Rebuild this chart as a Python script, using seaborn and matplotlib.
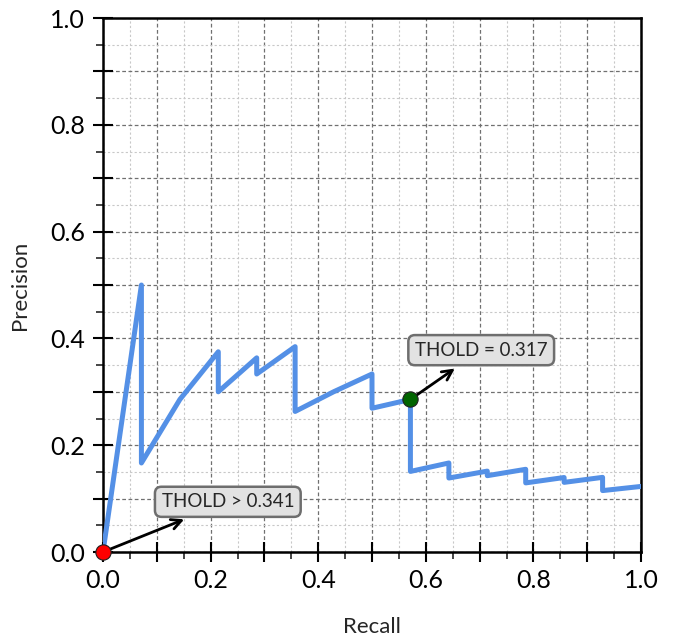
import matplotlib
matplotlib.use("Agg")
import matplotlib.pyplot as plt
from matplotlib.ticker import MultipleLocator
import seaborn as sns
import pandas as pd

# Precision-recall curve values
recall = [0.0, 0.0714, 0.0714, 0.1429, 0.2143, 0.2143, 0.2857, 0.2857,
          0.3571, 0.3571, 0.4286, 0.5, 0.5, 0.5714, 0.5714, 0.6429, 0.6429,
          0.7143, 0.7143, 0.7857, 0.7857, 0.8571, 0.8571, 0.9286, 0.9286, 1.0]
precision = [0.0, 0.5, 0.1667, 0.2857, 0.375, 0.3, 0.3636, 0.3333,
             0.3846, 0.2632, 0.3, 0.3333, 0.2692, 0.2857, 0.1509, 0.1667, 0.1385,
             0.1515, 0.1429, 0.1549, 0.1294, 0.1395, 0.1304, 0.1398, 0.1150, 0.1228]

# Highlighted thresholds
marker_recall = [0.0, 0.5714]
marker_precision = [0.0, 0.2857]
marker_colors = ["#ff0000", "#006400"]
marker_labels = ["THOLD > 0.341", "THOLD = 0.317"]
label_recall = [0.232, 0.703]
label_precision = [0.094, 0.378]

tick_values = [0.0, 0.1, 0.2, 0.3, 0.4, 0.5, 0.6, 0.7, 0.8, 0.9, 1.0]
tick_labels = ["0.0", "", "0.2", "", "0.4", "", "0.6", "", "0.8", "", "1.0"]

sns.set_style("white")
plt.rcParams["font.family"] = ["Lato", "DejaVu Sans"]

fig = plt.figure(figsize=(6.74, 6.38), dpi=100)
ax = fig.add_axes([103 / 674, 1 - 552 / 638, 538 / 674, 534 / 638])

df = pd.DataFrame({"Recall": recall, "Precision": precision})
sns.lineplot(data=df, x="Recall", y="Precision", sort=False, estimator=None,
             color="#5490E6", linewidth=3.6, ax=ax, zorder=3)

ax.set_xlim(0, 1)
ax.set_ylim(0, 1)

ax.set_xticks(tick_values)
ax.set_xticklabels(tick_labels)
ax.set_yticks(tick_values)
ax.set_yticklabels(tick_labels)
ax.xaxis.set_minor_locator(MultipleLocator(0.05))
ax.yaxis.set_minor_locator(MultipleLocator(0.05))

ax.tick_params(which="major", direction="inout", length=14, width=1.5,
               labelsize=18, colors="black", bottom=True, left=True)
ax.tick_params(axis="y", which="major", pad=6)
ax.tick_params(axis="x", which="major", pad=5)
ax.tick_params(which="minor", direction="out", length=5, width=1.2,
               bottom=True, left=True)

ax.grid(which="major", linestyle=(0, (3, 2)), color="#707070", linewidth=0.9)
ax.grid(which="minor", linestyle=(0, (2, 2)), color="#c8c8c8", linewidth=0.8)
ax.set_axisbelow(True)

for sp in ax.spines.values():
    sp.set_visible(True)
    sp.set_color("black")
    sp.set_linewidth(1.8)

ax.set_xlabel("Recall", fontsize=16, labelpad=18)
ax.set_ylabel("Precision", fontsize=16, labelpad=14)

for mx, my, mc, ml, lx, ly in zip(marker_recall, marker_precision, marker_colors,
                                   marker_labels, label_recall, label_precision):
    ax.annotate(ml, xy=(mx, my), xytext=(lx, ly), fontsize=13.5, ha="center", va="center",
                bbox=dict(boxstyle="round,pad=0.35", fc="#e2e2e2", ec="#6e6e6e", lw=1.8),
                arrowprops=dict(arrowstyle="<-", lw=2, color="black",
                                shrinkA=3, shrinkB=4, mutation_scale=18),
                zorder=6, annotation_clip=False)
    ax.plot([mx], [my], marker="o", markersize=11, color=mc, markeredgecolor="#202020",
            markeredgewidth=0.8, zorder=7, clip_on=False)

fig.savefig("out.png", dpi=100)
